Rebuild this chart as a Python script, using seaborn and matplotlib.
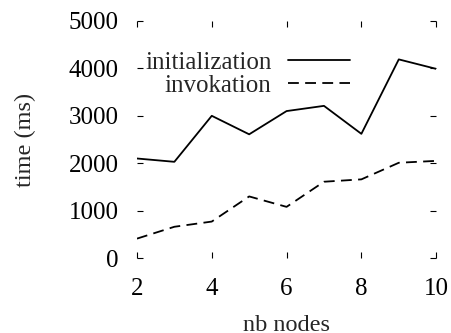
import numpy as np
import pandas as pd
import matplotlib
matplotlib.use("Agg")
import matplotlib.pyplot as plt
import seaborn as sns

# data
nodes = [2, 3, 4, 5, 6, 7, 8, 9, 10]
init_ms = [2100, 2030, 3000, 2610, 3100, 3210, 2620, 4190, 3990]
invoke_ms = [410, 660, 770, 1300, 1080, 1610, 1660, 2010, 2050]
series = ["initialization", "invokation"]

df = pd.DataFrame({
    "nodes": nodes * 2,
    "time": init_ms + invoke_ms,
    "series": [series[0]] * len(nodes) + [series[1]] * len(nodes),
})

sns.set_style("ticks")
plt.rcParams["font.family"] = ["Liberation Serif", "DejaVu Serif"]

fs = 18
fig = plt.figure(figsize=(4.52, 3.33), dpi=100)
ax = fig.add_axes([0.303, 0.225, 0.662, 0.712])

sns.lineplot(data=df, x="nodes", y="time", hue="series", style="series",
             palette=["black", "black"], dashes={series[0]: "", series[1]: (6, 3.5)},
             linewidth=1.3, ax=ax, legend=False)

ax.set_xlim(2, 10)
ax.set_ylim(0, 5000)
ax.set_xticks([2, 4, 6, 8, 10])
ax.set_yticks(range(0, 5001, 1000))
for s in ax.spines.values():
    s.set_visible(False)
ax.tick_params(direction="in", length=4, width=0.8, top=True, right=True,
               labelsize=fs, colors="black")
ax.tick_params(axis="x", pad=14)
ax.tick_params(axis="y", pad=13)
ax.set_xlabel("nb nodes", fontsize=17.5, labelpad=11)
ax.set_ylabel("time (ms)", fontsize=17.5, labelpad=23.5)

handles = ax.get_lines()[:2]
ax.legend(handles, series, loc="upper right", bbox_to_anchor=(0.755, 0.923),
          frameon=False, markerfirst=False, fontsize=fs, borderpad=0,
          handlelength=2.5, handletextpad=0.65, labelspacing=0.0)

fig.savefig("out.png", dpi=100)
